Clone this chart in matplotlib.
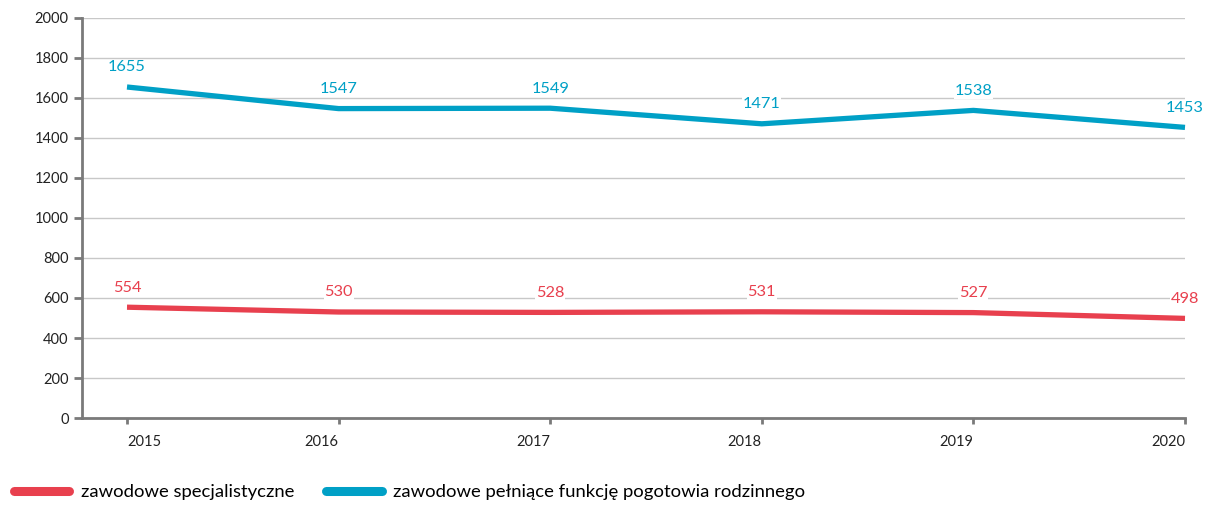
import matplotlib
matplotlib.use("Agg")
import matplotlib.pyplot as plt
from matplotlib.lines import Line2D

plt.rcParams["font.family"] = ["Lato", "DejaVu Sans"]

years = [2015, 2016, 2017, 2018, 2019, 2020]
specjalistyczne = [554, 530, 528, 531, 527, 498]
pogotowie = [1655, 1547, 1549, 1471, 1538, 1453]

labels = ["zawodowe specjalistyczne", "zawodowe pełniące funkcję pogotowia rodzinnego"]
colors = ["#E8404E", "#00A0C6"]
grid_c = "#c8c8c8"
axis_c = "#7a7a7a"

fig = plt.figure(figsize=(12.09, 5.05), dpi=100)
ax = fig.add_axes([82 / 1209, 1 - 418 / 505, (1185 - 82) / 1209, 400 / 505])

for vals, col in zip([specjalistyczne, pogotowie], colors):
    ax.plot(years, vals, color=col, lw=3.8, solid_capstyle="butt", zorder=3, clip_on=False)
    for x, v in zip(years, vals):
        ax.annotate(str(v), (x, v), xytext=(0, 9), textcoords="offset points",
                    ha="center", va="bottom", color=col, fontsize=11.8, zorder=4,
                    bbox=dict(boxstyle="square,pad=0.05", fc="white", ec="none"))

ax.set_xlim(2015 - 45 / 211.6, 2020)
ax.set_ylim(0, 2000)
ax.set_yticks(range(0, 2001, 200))
ax.set_xticks(years)
ax.yaxis.grid(True, color=grid_c, lw=1)
ax.set_axisbelow(True)

for s in ["top", "right"]:
    ax.spines[s].set_visible(False)
for s in ["left", "bottom"]:
    ax.spines[s].set_color(axis_c)
    ax.spines[s].set_linewidth(2)
ax.tick_params(axis="both", colors=axis_c, width=2, labelcolor="#222222", labelsize=10.5)
ax.tick_params(axis="x", length=4.5, pad=8)
ax.tick_params(axis="y", length=6)
# the first year label starts at its tick, the others end at theirs
for i, t in enumerate(ax.get_xticklabels()):
    t.set_ha("left" if i == 0 else "right")

handles = [Line2D([0], [0], color=c, lw=6.5, solid_capstyle="round") for c in colors]
fig.legend(handles, labels, loc="center left", bbox_to_anchor=(0.0055, 13 / 505), ncol=2,
           frameon=False, fontsize=13.3, handlelength=3.0, handletextpad=0.6,
           columnspacing=1.75, borderaxespad=0)

fig.savefig("out.png", dpi=100)
